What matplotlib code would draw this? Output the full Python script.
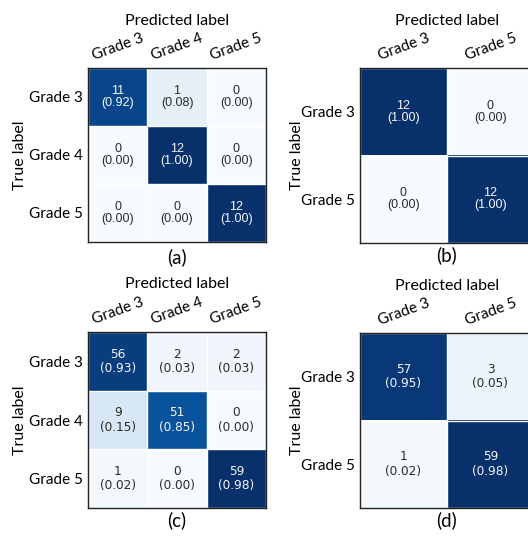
import numpy as np
import matplotlib
matplotlib.use("Agg")
import matplotlib.pyplot as plt

# Class names for the two set-ups
classes_3 = ["Grade 3", "Grade 4", "Grade 5"]
classes_2 = ["Grade 3", "Grade 5"]

# Confusion-matrix counts (rows = true, cols = predicted)
cm_a = [[11, 1, 0],
        [0, 12, 0],
        [0, 0, 12]]
cm_b = [[12, 0],
        [0, 12]]
cm_c = [[56, 2, 2],
        [9, 51, 0],
        [1, 0, 59]]
cm_d = [[57, 3],
        [1, 59]]

panel_tags = ["(a)", "(b)", "(c)", "(d)"]

W, H = 528, 536
fig = plt.figure(figsize=(W / 100, H / 100), dpi=100)

LABEL_FONT = ["Lato", "DejaVu Sans"]


def px_axes(x0, y0, x1, y1):
    return fig.add_axes([x0 / W, 1 - y1 / H, (x1 - x0) / W, (y1 - y0) / H])


def draw_cm(ax, cm, classes, tag, cell_font, cell_size, spacing, tag_y,
            ylab_x):
    cm = np.asarray(cm, dtype=float)
    n = len(classes)
    row_sum = cm.sum(axis=1, keepdims=True)
    frac = cm / row_sum
    ax.imshow(cm, cmap="Blues", vmin=0, vmax=cm.max(), aspect="auto",
              interpolation="nearest")
    thresh = cm.max() / 2.0
    for i in range(n):
        for j in range(n):
            col = "#f4f6fa" if cm[i, j] > thresh else "#2a2a2a"
            ax.text(j, i, f"{int(cm[i, j])}\n({frac[i, j]:.2f})",
                    ha="center", va="center", color=col, fontsize=cell_size,
                    family=cell_font, linespacing=spacing)
    # thin white separators between cells
    ax.set_xticks(np.arange(-0.5, n, 1), minor=True)
    ax.set_yticks(np.arange(-0.5, n, 1), minor=True)
    ax.grid(which="minor", color="white", linewidth=1.0)
    ax.tick_params(which="minor", length=0)
    ax.set_xticks(range(n))
    ax.set_yticks(range(n))
    ax.set_xticklabels(classes, rotation=20, ha="center", family=LABEL_FONT,
                       fontsize=11)
    ax.set_yticklabels(classes, family=LABEL_FONT, fontsize=11)
    ax.xaxis.tick_top()
    ax.tick_params(which="major", length=0, pad=3.5)
    for s in ax.spines.values():
        s.set_color("#222222")
        s.set_linewidth(1.0)
    ax.text(0.5, 1.27, "Predicted label", transform=ax.transAxes,
            ha="center", va="center", fontsize=11.5, family=LABEL_FONT)
    ax.text(ylab_x, 0.5, "True label", transform=ax.transAxes, rotation=90,
            ha="center", va="center", fontsize=11.5, family=LABEL_FONT)
    ax.text(0.5, tag_y, tag, transform=ax.transAxes, ha="center",
            va="center", fontsize=13.5, family=LABEL_FONT)


ax_a = px_axes(88, 68, 266, 242)
ax_b = px_axes(360, 68, 534, 243)
ax_c = px_axes(88, 332, 266, 508)
ax_d = px_axes(360, 333, 534, 508)

draw_cm(ax_a, cm_a, classes_3, panel_tags[0], ["Liberation Sans"], 9, 1.0,
        -0.088, -0.38)
draw_cm(ax_b, cm_b, classes_2, panel_tags[1], ["Liberation Sans"], 9, 1.0,
        -0.07, -0.36)
draw_cm(ax_c, cm_c, classes_3, panel_tags[2], ["DejaVu Sans"], 8.7, 1.15,
        -0.072, -0.38)
draw_cm(ax_d, cm_d, classes_2, panel_tags[3], ["DejaVu Sans"], 8.7, 1.15,
        -0.072, -0.36)

fig.savefig("out.png", dpi=100, facecolor="white")
